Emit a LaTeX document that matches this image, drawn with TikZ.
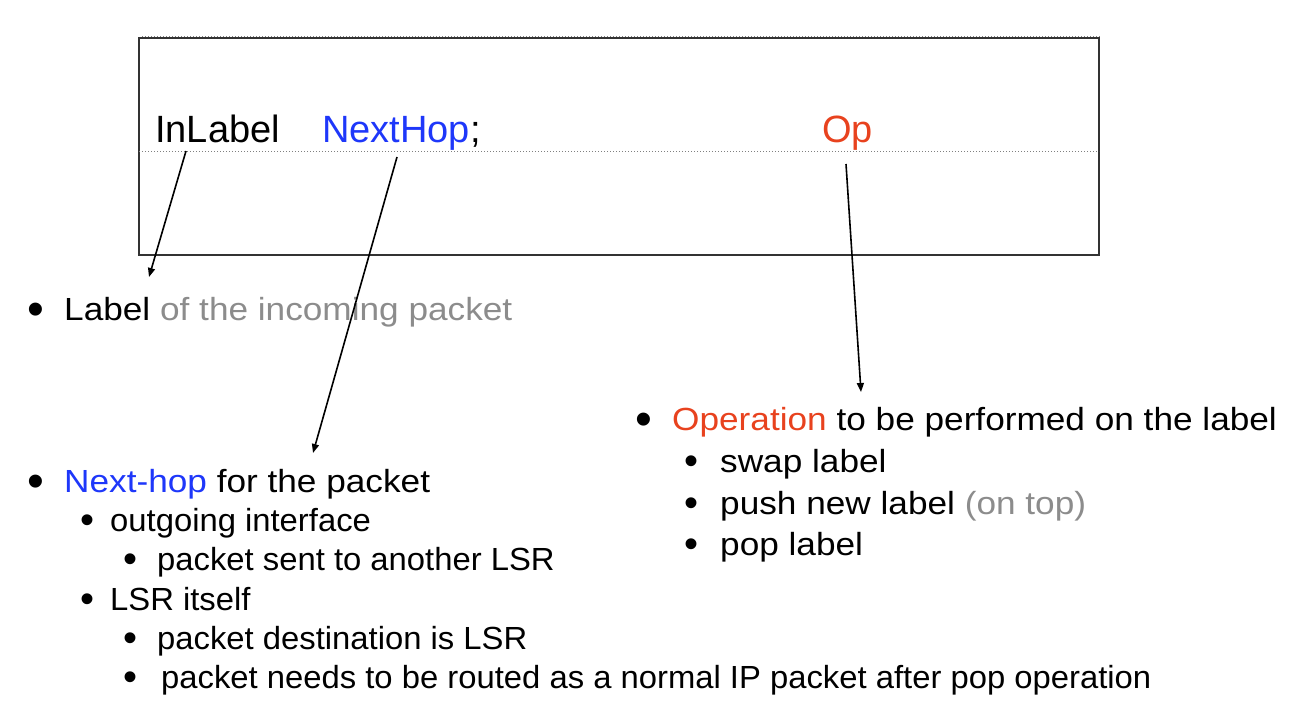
\documentclass[tikz,border=0pt]{standalone}
\usepackage{fontspec}
\setmainfont{Liberation Sans}
\newfontfamily\widefont[FakeStretch=1.1]{Liberation Sans}
\newfontfamily\nearfont[FakeStretch=1.025]{Liberation Sans}
\usepackage{tikz}
\usetikzlibrary{arrows.meta,positioning}
\definecolor{hopblue}{RGB}{30,55,250}
\definecolor{opred}{RGB}{232,66,30}
\definecolor{softgray}{RGB}{140,140,140}
\newcommand{\tip}{-{Triangle[length=9pt,width=7pt]}}

\begin{document}
\begin{tikzpicture}[x=1pt,y=-1pt,
    field/.style={anchor=base west,inner sep=0pt,font=\fontsize{38}{42}\selectfont},
    txt/.style={anchor=base west,inner sep=0pt,font=\widefont\fontsize{32}{36}\selectfont},
    subtxt/.style={anchor=base west,inner sep=0pt,font=\nearfont\fontsize{32}{36}\selectfont},
    dot/.style={anchor=base,inner sep=0pt,yshift=-5.5pt,font=\fontsize{48}{50}\selectfont},
    subdot/.style={anchor=base,inner sep=0pt,yshift=-2.8pt,font=\fontsize{40}{42}\selectfont},
    guide/.style={gray,dotted,line width=1pt},
    pointer/.style={\tip,line width=1.6pt}]
    \useasboundingbox (0,0) rectangle (1292,701);
    % the table entry
    \draw[guide] (142,37) -- (1100,37);
    \draw[line width=1.3pt,black!80] (139,38) rectangle (1099,255);
    \draw[guide] (139,151) -- (1099,151);
    \node[field] (inlabel) at (155,142) {InLabel};
    \node[field] (nexthop) at (322,142) {\textcolor{hopblue}{NextHop};};
    \node[field,text=opred] (op) at (822,142) {Op};
    % left column
    \node[dot] (lab-b) at (36,320) {•};
    \node[txt] (lab) at (64,320) {Label \textcolor{softgray}{of the incoming packet}};
    \node[dot] (nh-b) at (36,492) {•};
    \node[txt] (nh) at (64,492) {\textcolor{hopblue}{Next-hop} for the packet};
    \node[subdot] (out-b) at (88,531) {•};
    \node[subtxt] (out) at (110,531) {outgoing interface};
    \node[subdot] (out1-b) at (131,570) {•};
    \node[subtxt] (out1) at (157,570) {packet sent to another LSR};
    \node[subdot] (self-b) at (88,610) {•};
    \node[subtxt] (self) at (110,610) {LSR itself};
    \node[subdot] (self1-b) at (131,649) {•};
    \node[subtxt] (self1) at (157,649) {packet destination is LSR};
    \node[subdot] (self2-b) at (131,688) {•};
    \node[subtxt] (self2) at (161,688) {packet needs to be routed as a normal IP packet after pop operation};
    % right column
    \node[dot] (oper-b) at (644,430) {•};
    \node[txt] (oper) at (672,430) {\textcolor{opred}{Operation} to be performed on the label};
    \node[subdot] (swap-b) at (691,472) {•};
    \node[txt] (swap) at (720,472) {swap label};
    \node[subdot] (push-b) at (691,514) {•};
    \node[txt] (push) at (720,514) {push new label \textcolor{softgray}{(on top)}};
    \node[subdot] (pop-b) at (691,555) {•};
    \node[txt] (pop) at (720,555) {pop label};
    % pointers
    \coordinate (inlabel-s) at (186,151);
    \coordinate (lab-t) at (149,277);
    \coordinate (nexthop-s) at (397,157);
    \coordinate (nh-t) at (313,453);
    \coordinate (op-s) at (846,164);
    \coordinate (oper-t) at (861,392);
    \draw[pointer] (inlabel-s) -- (lab-t);
    \draw[pointer] (nexthop-s) -- (nh-t);
    \draw[pointer] (op-s) -- (oper-t);
\end{tikzpicture}
\end{document}
